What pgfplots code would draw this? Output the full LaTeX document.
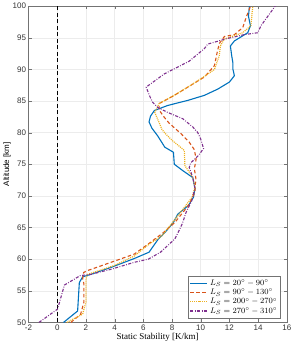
\documentclass[border=0pt]{standalone}
\usepackage{fontspec}
\setmainfont{Liberation Serif}
\setsansfont{Liberation Sans}
\usepackage{pgfplots}
\pgfplotsset{compat=1.18}
\definecolor{mblue}{rgb}{0,0.447,0.741}
\definecolor{morange}{rgb}{0.85,0.325,0.098}
\definecolor{myellow}{rgb}{0.929,0.694,0.125}
\definecolor{mpurple}{rgb}{0.494,0.184,0.556}
\begin{document}
\begin{tikzpicture}
\begin{axis}[
  scale only axis,
  width=258pt, height=316pt,
  xmin=-2, xmax=16, ymin=50, ymax=100,
  xtick={-2,0,...,16}, ytick={50,55,...,100},
  tick align=inside,
  major tick length=3pt,
  grid=major,
  grid style={gray!15, line width=0.4pt},
  axis line style={black!55},
  tick style={black!55},
  /pgf/number format/assume math mode=true,
  tick label style={font=\sffamily\fontsize{8}{9}\selectfont, text=black!80},
  xticklabel style={yshift=1pt},
  yticklabel style={xshift=1pt},
  xlabel={Static Stability [K/km]},
  xlabel style={font=\rmfamily\fontsize{9}{10}\selectfont, yshift=4pt},
  ylabel={Altitude [km]},
  ylabel style={font=\sffamily\fontsize{8}{9}\selectfont, yshift=-5pt},
  legend style={at={(0.977,0.013)}, anchor=south east, font=\fontsize{8}{9}\selectfont,
    draw=black!55, row sep=-2pt, inner sep=1.5pt},
  legend cell align=left,
]
\addplot[black, dashed, line width=1.1pt, dash pattern=on 4pt off 2.5pt, forget plot] coordinates {(0,50) (0,100)};
\addplot[mblue, line width=1.1pt] coordinates {
(0.44,50) (1.42,51.8) (1.54,56.3) (1.77,57.2) (2.35,57.6) (3.75,58.7) (5.37,60.1) (6.4,61.1)
(7.05,63.2) (7.5,64.2) (8.1,65.8) (8.4,67.1) (9.15,68.5) (9.5,69.8) (9.6,71.2) (9.45,72.9)
(8.75,74) (8.16,75) (8.1,76.9) (7.5,77.7) (7.0,79.5) (6.6,80.7) (6.4,81.7) (6.5,82.6)
(6.77,83.5) (7.7,84.3) (9.1,85.1) (10.26,85.9) (11.2,86.9) (12.0,88) (12.35,89) (12.24,90.1)
(12.24,91.1) (12.16,92.2) (12.07,93.7) (12.35,94.5) (13.28,95.8) (13.47,96.9) (13.33,98.4) (13.4,100)};
\addlegendentry{$L_S = 20^\circ - 90^\circ$}
\addplot[morange, line width=1.1pt, dash pattern=on 3.5pt off 2.5pt] coordinates {
(0.95,50) (1.63,51.3) (1.86,53.2) (1.86,56.1) (1.77,56.9) (1.84,57.9) (2.12,58.2) (3.75,59.5)
(5.37,60.8) (6.35,62.4) (7.4,64.2) (8.2,65.8) (9.15,68.5) (9.6,70.6) (9.6,71.6) (9.68,72.5)
(9.56,74.3) (9.68,75.8) (9.56,77.3) (9.2,78.5) (8.6,79.9) (7.8,81.5) (7.4,82.6) (7.1,83.6)
(7.1,84.6) (8.16,85.9) (9.1,87.2) (10.26,88.8) (10.96,90.6) (11.14,92.6) (11.3,94.1)
(11.65,95.2) (12.35,95.5) (12.93,96.6) (13.2,98.4) (13.47,100)};
\addlegendentry{$L_S = 90^\circ - 130^\circ$}
\addplot[myellow, line width=1.2pt, dash pattern=on 1pt off 1pt] coordinates {
(0.67,50) (1.77,51.3) (2.0,53.2) (2.0,56.9) (2.12,57.6) (3.98,59) (5.37,60.5) (6.3,62.2)
(7.3,63.7) (8.6,67.4) (9.4,69.8) (9.6,71.4) (9.45,72.9) (8.9,74.8) (8.86,77.2) (8.05,78.7)
(7.6,79.7) (7.3,80.5) (7.1,81.6) (6.8,83.2) (7.1,84.6) (8.16,85.9) (9.1,87.2) (10.2,88.8)
(10.96,90) (11.3,92.2) (11.37,93.7) (11.65,94.8) (12.93,95.8) (13.5,96.9) (13.63,100)};
\addlegendentry{$L_S = 200^\circ - 270^\circ$}
\addplot[mpurple, line width=1.1pt, dash pattern=on 3pt off 1.5pt on 0.8pt off 1.5pt] coordinates {
(-1.27,50) (0.02,52.1) (0.5,55.9) (1.6,57.4) (2.35,57.6) (3.75,58.4) (5.37,59.5) (6.35,60)
(7.2,61.1) (8.2,63.2) (8.7,65.5) (9.0,67.5) (9.37,69.2) (9.6,71.2) (9.45,72.9) (9.2,74.5)
(9.3,75.2) (9.85,76.4) (10.2,77.5) (10.0,79) (9.8,80) (9.45,80.9) (8.75,82.2) (7.7,83.2)
(7.0,84) (6.65,84.8) (6.42,85.9) (6.2,87.2) (7.47,89.3) (9.2,91.3) (10.26,93.3) (10.49,94)
(11.88,94.9) (13.05,95.5) (13.98,95.8) (14.2,96.9) (14.68,98.4) (15.19,100)};
\addlegendentry{$L_S = 270^\circ - 310^\circ$}
\end{axis}
\end{tikzpicture}
\end{document}
